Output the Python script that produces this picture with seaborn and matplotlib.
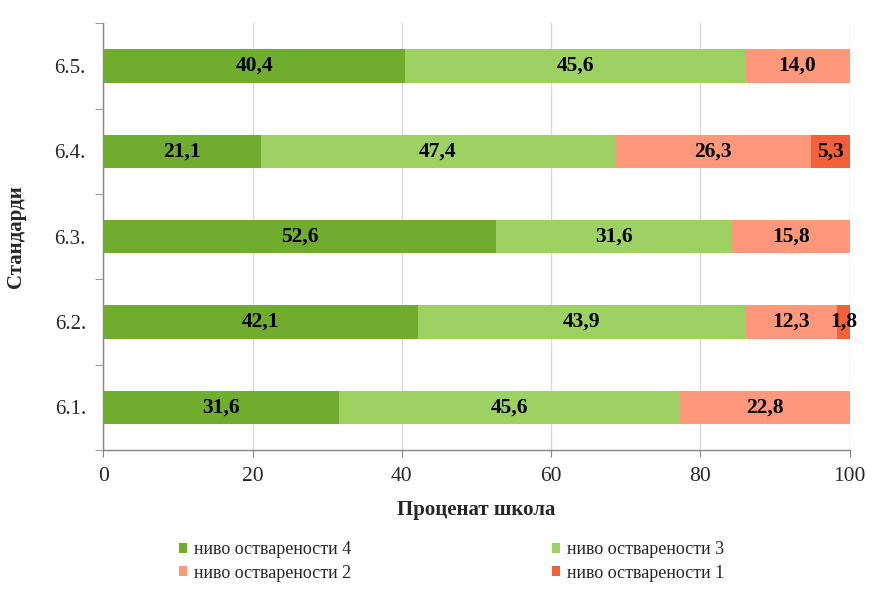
import numpy as np
import pandas as pd
import matplotlib
matplotlib.use("Agg")
import matplotlib.pyplot as plt
from matplotlib.patches import Patch
from matplotlib.ticker import FixedLocator
import seaborn as sns

# data, top to bottom as drawn
standards = ["6.5.", "6.4.", "6.3.", "6.2.", "6.1."]
level4 = [40.4, 21.1, 52.6, 42.1, 31.6]
level3 = [45.6, 47.4, 31.6, 43.9, 45.6]
level2 = [14.0, 26.3, 15.8, 12.3, 22.8]
level1 = [0.0, 5.3, 0.0, 1.8, 0.0]

level_names = ["ниво остварености 4", "ниво остварености 3",
               "ниво остварености 2", "ниво остварености 1"]
colors = ["#70AD2F", "#9DD262", "#FF987B", "#F3613A"]

X_LABEL = "Проценат школа"
Y_LABEL = "Стандарди"


def fmt(v):
    return f"{v:.1f}".replace(".", ",")


def main():
    sns.set_style("white")
    plt.rcParams["font.family"] = ["Liberation Serif", "DejaVu Serif"]

    df = pd.DataFrame({"standard": standards, "l4": level4, "l3": level3,
                       "l2": level2, "l1": level1})
    layers = ["l4", "l3", "l2", "l1"]
    cum = df[layers].cumsum(axis=1)

    fig = plt.figure(figsize=(8.86, 5.91), dpi=100)
    ax = fig.add_axes([0.1166, 0.2386, 0.8425, 0.722])

    # draw cumulative totals from largest to smallest so each layer sits on top
    for col, color in reversed(list(zip(layers, colors))):
        sns.barplot(x=cum[col], y=df["standard"], order=standards, orient="h",
                    color=color, width=0.39, saturation=1, linewidth=0, ax=ax, zorder=3)

    # value labels centred in each segment
    starts = cum - df[layers]
    for i in range(len(standards)):
        for col in layers:
            v = df.loc[i, col]
            if v <= 0:
                continue
            ax.text(starts.loc[i, col] + v / 2, i, fmt(v), ha="center", va="center",
                    fontsize=15.5, fontweight="bold", color="black", zorder=5)

    ax.set_xlim(0, 100)
    ax.set_ylim(4.5, -0.5)
    ax.set_xticks([0, 20, 40, 60, 80, 100])
    ax.grid(axis="x", color="#D9D9D9", linewidth=1, zorder=0)
    ax.grid(axis="y", visible=False)
    ax.set_axisbelow(True)

    for side in ["top", "right"]:
        ax.spines[side].set_visible(False)
    for side in ["left", "bottom"]:
        ax.spines[side].set_color("#868686")
        ax.spines[side].set_linewidth(1)

    ax.tick_params(axis="x", which="major", length=5, color="#868686",
                   labelsize=15.5, pad=7, direction="out", bottom=True)
    ax.tick_params(axis="y", which="major", length=0, labelsize=15, pad=12.5)
    ax.yaxis.set_minor_locator(FixedLocator(np.arange(-0.5, len(standards), 1.0)))
    ax.tick_params(axis="y", which="minor", length=6, color="#868686",
                   direction="out", left=True)

    ax.set_xlabel(X_LABEL, fontsize=15, fontweight="bold", labelpad=10)
    ax.set_ylabel(Y_LABEL, fontsize=15, fontweight="bold")
    ax.yaxis.set_label_coords(-0.104, 0.5)

    # legend: row 1 -> levels 4, 3; row 2 -> levels 2, 1 (filled column-wise)
    handles = [Patch(facecolor=c, edgecolor="none") for c in colors]
    order = [0, 2, 1, 3]
    fig.legend([handles[k] for k in order], [level_names[k] for k in order],
               ncol=2, loc="center", bbox_to_anchor=(0.510, 0.050), frameon=False,
               fontsize=13, handlelength=0.45, handleheight=0.45, handletextpad=0.4,
               columnspacing=11.1, labelspacing=0.35, borderaxespad=0)

    fig.savefig("out.png", dpi=100)
    plt.close(fig)


if __name__ == "__main__":
    main()
